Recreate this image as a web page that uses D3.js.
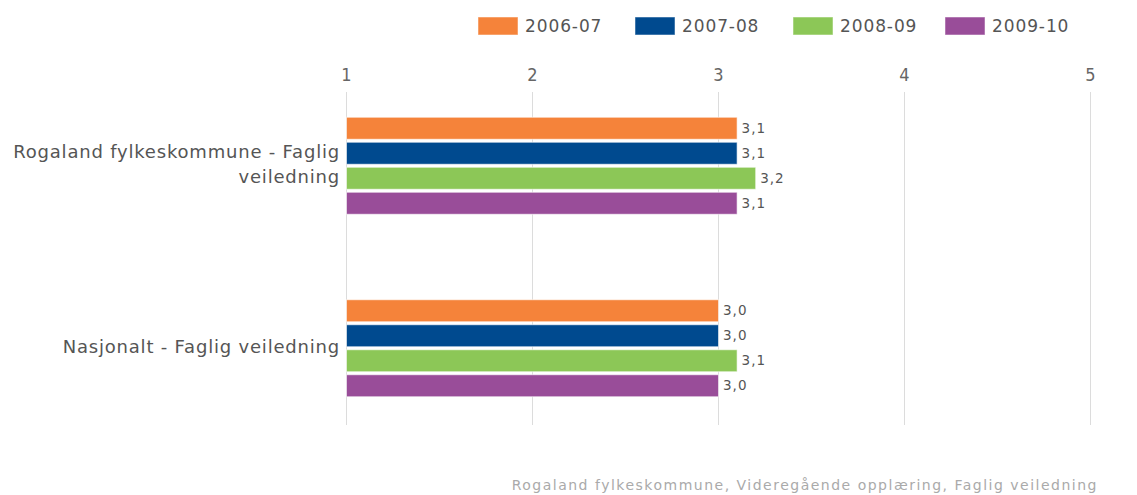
<!DOCTYPE html>
<html><head><meta charset="utf-8">
<script src="https://cdn.jsdelivr.net/npm/d3@7"></script>
<style>body{margin:0;background:#fff}svg{display:block}</style>
</head><body>
<svg id="chart" width="1137" height="495"></svg>
<script>
const categories = ["Rogaland fylkeskommune - Faglig veiledning", "Nasjonalt - Faglig veiledning"];
const categoryLines = [["Rogaland fylkeskommune - Faglig", "veiledning"], ["Nasjonalt - Faglig veiledning"]];
const seriesNames = ["2006-07", "2007-08", "2008-09", "2009-10"];
const seriesColors = ["#F5833A", "#004A8F", "#8CC757", "#994D99"];
const values2006 = [3.1, 3.0];
const values2007 = [3.1, 3.0];
const values2008 = [3.2, 3.1];
const values2009 = [3.1, 3.0];
const tickValues = [1, 2, 3, 4, 5];
const footerText = "Rogaland fylkeskommune, Videregående opplæring, Faglig veiledning";

const allValues = [values2006, values2007, values2008, values2009];
const font = "'DejaVu Sans', sans-serif";
const fontC = "'DejaVu Sans Condensed', 'DejaVu Sans', sans-serif";
const svg = d3.select("#chart");

const x = d3.scaleLinear().domain([1, 5]).range([346, 1090]);
const y = d3.scaleBand().domain(categories).range([74, 439]).padding(0);
const inner = d3.scaleBand().domain(seriesNames).range([0, 100]).paddingInner(0.12).paddingOuter(0.06);

// gridlines via axis
const gridAxis = d3.axisTop(x).tickValues(tickValues).tickSize(-333).tickFormat("");
const g = svg.append("g").attr("transform", "translate(0,92)").call(gridAxis);
g.select(".domain").remove();
g.selectAll("line").attr("stroke", "#dcdcdc").attr("stroke-width", 1).attr("shape-rendering", "crispEdges");

// tick labels
const labAxis = d3.axisTop(x).tickValues(tickValues).tickSize(0).tickFormat(d3.format("d"));
const la = svg.append("g").attr("transform", "translate(0,84)").call(labAxis);
la.select(".domain").remove();
la.selectAll("text").attr("font-family", fontC).attr("font-size", 18).attr("fill", "#666");

// bars
categories.forEach((cat, ci) => {
  const cy = y(cat) + y.bandwidth() / 2 - 50;
  seriesNames.forEach((s, si) => {
    const v = allValues[si][ci];
    svg.append("rect")
      .attr("x", x(1) + 0.5).attr("y", cy + inner(s) + 0.5)
      .attr("width", x(v) - x(1)).attr("height", inner.bandwidth())
      .attr("fill", seriesColors[si]).attr("stroke", "rgba(255,255,255,0.6)").attr("stroke-width", 1);
    svg.append("text")
      .attr("x", x(v) + 5).attr("y", cy + inner(s) + inner.bandwidth() / 2 + 1)
      .attr("dominant-baseline", "middle")
      .attr("font-family", font).attr("font-size", 13.5).attr("letter-spacing", 1).attr("fill", "#555")
      .text(d3.format(".1f")(v).replace(".", ","));
  });
  // category label
  const lines = categoryLines[ci];
  const cmid = y(cat) + y.bandwidth() / 2;
  const lh = 25;
  lines.forEach((ln, li) => {
    svg.append("text")
      .attr("x", 340).attr("y", cmid - (lines.length - 1) * lh / 2 + li * lh)
      .attr("text-anchor", "end").attr("dominant-baseline", "middle")
      .attr("font-family", font).attr("font-size", 18).attr("letter-spacing", 0.8).attr("fill", "#555")
      .text(ln);
  });
});

// legend
const legendX = [478, 635, 793, 945];
seriesNames.forEach((s, i) => {
  svg.append("rect").attr("x", legendX[i]).attr("y", 17).attr("width", 40).attr("height", 18)
    .attr("fill", seriesColors[i]).attr("stroke", "rgba(255,255,255,0.5)");
  svg.append("text").attr("x", legendX[i] + 47).attr("y", 27).attr("dominant-baseline", "middle")
    .attr("font-family", font).attr("font-size", 17).attr("letter-spacing", 0.9).attr("fill", "#555").text(s);
});

// footer
svg.append("text").attr("x", 1098).attr("y", 490).attr("text-anchor", "end")
  .attr("font-family", font).attr("font-size", 14).attr("letter-spacing", 1.5).attr("fill", "#aaa").text(footerText);
</script>
</body></html>
